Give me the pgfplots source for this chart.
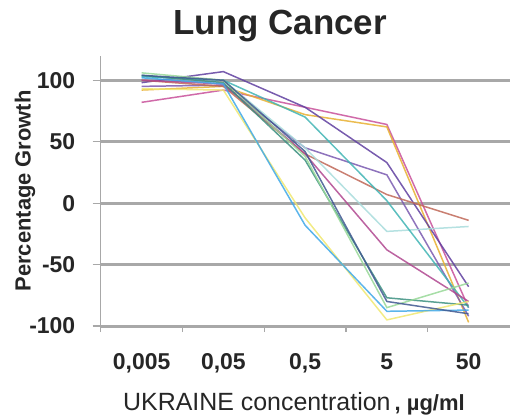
\documentclass[border=0pt]{standalone}
\usepackage{fontspec}
\setmainfont{Liberation Sans}
\usepackage{pgfplots}
\pgfplotsset{compat=1.18}
\definecolor{gridgray}{HTML}{A8A8A8}
\definecolor{cpink}{HTML}{C8509A}
\definecolor{corange}{HTML}{E8B030}
\definecolor{cpurpleA}{HTML}{6040A0}
\definecolor{cpurpleB}{HTML}{7A5AB0}
\definecolor{cred}{HTML}{C06858}
\definecolor{clcyan}{HTML}{A8DCDC}
\definecolor{cteal}{HTML}{40B4B4}
\definecolor{cmag}{HTML}{B04890}
\definecolor{cdteal}{HTML}{3C9080}
\definecolor{clgreen}{HTML}{98D898}
\definecolor{cyellow}{HTML}{F0E870}
\definecolor{csky}{HTML}{40A8E8}
\definecolor{cnavy}{HTML}{405890}
\begin{document}
\begin{tikzpicture}
\begin{axis}[
  scale only axis,
  width=410pt, height=271.2pt,
  xmin=-0.5, xmax=4.5,
  ymin=-100, ymax=120,
  axis x line*=bottom,
  axis y line*=left,
  axis line style={gridgray, line width=1.5pt},
  xtick={0,1,2,3,4},
  xticklabels={{0,005},{0,05},{0,5},5,50},
  major x tick style={draw=none},
  minor xtick={-0.5,0.5,1.5,2.5,3.5},
  minor tick length=6pt,
  ytick={-100,-50,0,50,100},
  yticklabels={-100,-50,0,50,100},
  tick align=outside,
  major tick length=8pt,
  tick style={gridgray, line width=1.2pt},
  ymajorgrids,
  grid style={gridgray, line width=3pt},
  tick label style={font=\bfseries\fontsize{23}{23}\selectfont, text=black!85},
  xticklabel style={yshift=-16pt},
  yticklabel shift=14pt,
  title={Lung Cancer},
  title style={font=\bfseries\fontsize{35}{35}\selectfont, text=black!85, at={(rel axis cs:0.5,1)}, anchor=base, xshift=-25pt, yshift=15pt},
  ylabel={Percentage Growth},
  every axis y label/.style={at={([xshift=-76pt]rel axis cs:0,0.5)}, rotate=90, anchor=center, font=\bfseries\fontsize{22}{22}\selectfont, text=black!85},
  clip=false,
  every axis plot/.append style={line width=1.5pt, opacity=0.85},
]
\addplot[cpink] coordinates {(0,82) (1,92) (2,78) (3,64) (4,-85)};
\addplot[corange] coordinates {(0,92) (1,95) (2,72) (3,62) (4,-97)};
\addplot[cpurpleA] coordinates {(0,98) (1,107) (2,78) (3,33) (4,-68)};
\addplot[cpurpleB] coordinates {(0,95) (1,96) (2,45) (3,23) (4,-92)};
\addplot[cred] coordinates {(0,100) (1,95) (2,40) (3,7) (4,-14)};
\addplot[clcyan] coordinates {(0,103) (1,100) (2,45) (3,-23) (4,-19)};
\addplot[cteal] coordinates {(0,103) (1,100) (2,70) (3,2) (4,-85)};
\addplot[cmag] coordinates {(0,100) (1,97) (2,40) (3,-38) (4,-80)};
\addplot[cdteal] coordinates {(0,104) (1,98) (2,35) (3,-77) (4,-83)};
\addplot[clgreen] coordinates {(0,106) (1,100) (2,38) (3,-85) (4,-65)};
\addplot[cyellow] coordinates {(0,93) (1,92) (2,-12) (3,-95) (4,-80)};
\addplot[csky] coordinates {(0,102) (1,97) (2,-18) (3,-88) (4,-87)};
\addplot[cnavy] coordinates {(0,104) (1,100) (2,42) (3,-80) (4,-90)};
\coordinate (sw) at (rel axis cs:0,0);
\node[font=\fontsize{25}{25}\selectfont, text=black!85, anchor=base west] at ([xshift=19pt,yshift=-85pt]rel axis cs:0,0) {UKRAINE concentration\,{\bfseries\fontsize{22}{22}\selectfont , µg/ml}};
\end{axis}
\path[use as bounding box] ([shift={(-101pt,-88pt)}]sw) rectangle ([shift={(410pt,327pt)}]sw);
\end{tikzpicture}
\end{document}
